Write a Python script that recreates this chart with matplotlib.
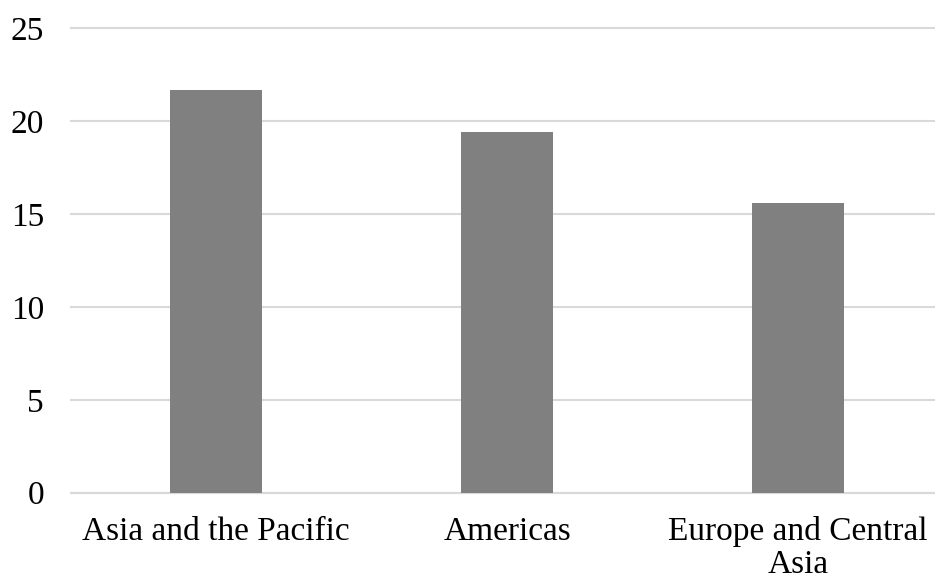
import matplotlib
matplotlib.use("Agg")
import matplotlib.pyplot as plt

categories = ["Asia and the Pacific", "Americas", "Europe and Central\nAsia"]
values = [21.7, 19.4, 15.6]
yticks = [0, 5, 10, 15, 20, 25]

plt.rcParams["font.family"] = ["Liberation Serif", "DejaVu Serif"]

W, H = 935, 577
fig = plt.figure(figsize=(W / 100, H / 100), dpi=100)

left_px, right_px = 70.5, 935
top_px, bottom_px = 28.5, 492.7
ax = fig.add_axes([left_px / W, 1 - bottom_px / H,
                   (right_px - left_px) / W, (bottom_px - top_px) / H])

x = list(range(len(categories)))
ax.bar(x, values, width=0.316, color="#808080", zorder=3)

# category slot is 291 px wide; plot area is cut off on the right
slot = 291.0
ax.set_xlim(-0.5, -0.5 + (right_px - left_px) / slot)
ax.set_ylim(0, 25)
ax.set_yticks(yticks)
ax.set_yticklabels([str(t) for t in yticks])
ax.set_xticks(x)
ax.set_xticklabels(categories, linespacing=1.1)

ax.grid(axis="y", color="#d9d9d9", linewidth=1.5, zorder=0)
for gl in ax.get_ygridlines():
    gl.set_clip_on(False)
ax.set_axisbelow(True)
for s in ["top", "right", "left"]:
    ax.spines[s].set_visible(False)
ax.spines["bottom"].set_color("#d9d9d9")
ax.spines["bottom"].set_linewidth(1.5)

ax.tick_params(axis="both", length=0, labelsize=24, colors="black")
ax.tick_params(axis="y", pad=19)
ax.tick_params(axis="x", pad=17)

fig.savefig("out.png", dpi=100, facecolor="white")
